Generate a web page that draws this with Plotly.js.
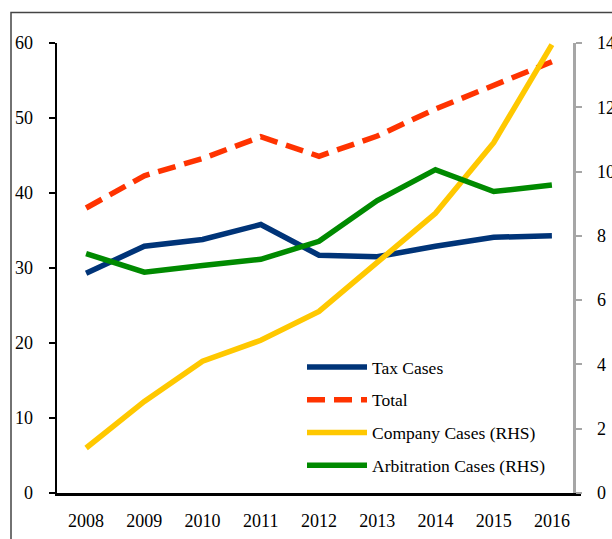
<!DOCTYPE html>
<html>
<head>
<meta charset="utf-8">
<script src="https://cdn.plot.ly/plotly-3.0.1.min.js"></script>
<style>html,body{margin:0;padding:0;background:#fff;}#chart{width:612px;height:539px;}</style>
</head>
<body>
<div id="chart"></div>
<script>
var years = ['2008','2009','2010','2011','2012','2013','2014','2015','2016'];
var taxCases = [29.3, 32.9, 33.8, 35.8, 31.7, 31.5, 32.9, 34.1, 34.3];
var totalCases = [38.0, 42.3, 44.6, 47.5, 44.9, 47.6, 51.2, 54.3, 57.5];
var companyCases = [1.4, 2.85, 4.1, 4.75, 5.65, 7.15, 8.7, 10.9, 13.95];
var arbitrationCases = [7.45, 6.87, 7.08, 7.27, 7.83, 9.1, 10.06, 9.38, 9.58];
var leftTicks = [0, 10, 20, 30, 40, 50, 60];
var rightTicks = [0, 2, 4, 6, 8, 10, 12, 14];

var serif = 'Liberation Serif, Times New Roman, serif';
var lw = 5.5;

var traces = [
  {x: years, y: taxCases, name: 'Tax Cases', type: 'scatter', mode: 'lines', legendgroup: 'a',
   line: {color: '#003478', width: lw}},
  {x: years, y: totalCases, name: 'Total', type: 'scatter', mode: 'lines', legendgroup: 'b',
   line: {color: '#FF3300', width: lw, dash: '18px,9px'}},
  {x: years, y: companyCases, name: 'Company Cases (RHS)', type: 'scatter', mode: 'lines', legendgroup: 'c',
   yaxis: 'y2', line: {color: '#FFC800', width: lw}},
  {x: years, y: arbitrationCases, name: 'Arbitration Cases (RHS)', type: 'scatter', mode: 'lines', legendgroup: 'd',
   yaxis: 'y2', line: {color: '#008A00', width: lw}}
];

var W = 612, H = 539, L = 57, R = 31, T = 43, B = 46;
var pw = W - L - R, ph = H - T - B;
function px2x(p){ return (p - L) / pw; }
function py2y(p){ return (H - B - p) / ph; }

var layout = {
  width: W, height: H,
  margin: {l: L, r: R, t: T, b: B, pad: 0},
  paper_bgcolor: '#ffffff', plot_bgcolor: 'rgba(0,0,0,0)',
  font: {family: serif, size: 18, color: '#000'},
  showlegend: true,
  legend: {
    x: px2x(302), y: py2y(349), xanchor: 'left', yanchor: 'top',
    bgcolor: 'rgba(0,0,0,0)', borderwidth: 0,
    font: {family: serif, size: 17.5, color: '#000'},
    traceorder: 'grouped', tracegroupgap: 7, itemwidth: 60
  },
  xaxis: {
    type: 'category', range: [-0.5, 8.5], fixedrange: true,
    showline: true, linecolor: '#000', linewidth: 2.5,
    showgrid: false, zeroline: false, ticks: '',
    ticklabelstandoff: 10,
    tickfont: {family: serif, size: 18, color: '#000'}
  },
  yaxis: {
    range: [0, 60], tickvals: leftTicks, showgrid: false, zeroline: false,
    showline: true, linecolor: '#000', linewidth: 2.5,
    ticks: 'outside', ticklen: 6, tickwidth: 2, tickcolor: '#000',
    ticklabelstandoff: 12,
    tickfont: {family: serif, size: 18, color: '#000'}
  },
  yaxis2: {
    range: [0, 14], tickvals: rightTicks, overlaying: 'y', side: 'right',
    anchor: 'free', position: px2x(574),
    showgrid: false, zeroline: false,
    showline: true, linecolor: '#A6A6A6', linewidth: 2.5,
    ticks: 'outside', ticklen: 6, tickwidth: 2, tickcolor: '#A6A6A6',
    ticklabelstandoff: 12,
    tickfont: {family: serif, size: 18, color: '#000'}
  },
  shapes: [
    {type: 'rect', xref: 'paper', yref: 'paper',
     x0: px2x(11), x1: px2x(640), y0: py2y(570), y1: py2y(12.5),
     line: {color: '#444', width: 1.5}, fillcolor: 'rgba(0,0,0,0)', layer: 'below'}
  ]
};

Plotly.newPlot('chart', traces, layout, {staticPlot: true, displayModeBar: false});
</script>
</body>
</html>
